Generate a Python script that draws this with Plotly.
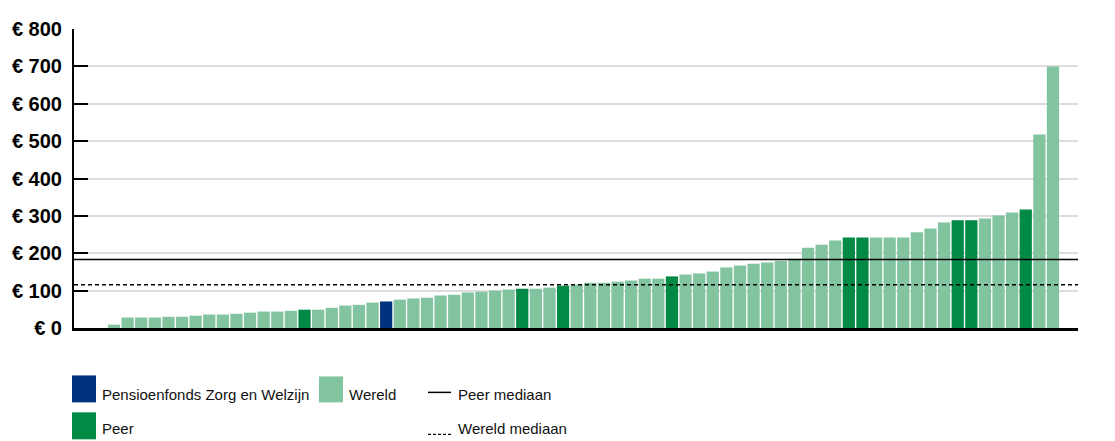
import plotly.graph_objects as go

# ---- data ----
ranks = list(range(1, 71))
costs = [9, 28, 28, 28, 30, 30, 33, 36, 36, 38,
         41, 44, 44, 46, 49, 49, 54, 60, 62, 68,
         71, 76, 79, 81, 87, 89, 95, 97, 100, 103,
         105, 105, 108, 113, 116, 121, 121, 124, 127, 132,
         132, 138, 143, 146, 151, 162, 167, 172, 175, 180,
         185, 215, 223, 234, 242, 242, 242, 242, 242, 256,
         266, 282, 288, 288, 293, 301, 309, 317, 518, 700]
groups = (["W"] * 14 + ["P"] + ["W"] * 5 + ["Z"] + ["W"] * 9 + ["P"] + ["W"] * 2 + ["P"]
          + ["W"] * 7 + ["P"] + ["W"] * 12 + ["P", "P"] + ["W"] * 6 + ["P", "P"]
          + ["W"] * 3 + ["P"] + ["W", "W"])
peer_median = 183
wereld_median = 116
y_ticks = [0, 100, 200, 300, 400, 500, 600, 700, 800]
y_tick_labels = ["€ " + str(v) for v in y_ticks]
legend_labels = {"Z": "Pensioenfonds Zorg en Welzijn", "W": "Wereld", "P": "Peer",
                 "pm": "Peer mediaan", "wm": "Wereld mediaan"}

colors = {"Z": "#00337F", "P": "#008A45", "W": "#82C4A0"}

OFF = 8  # page body margin
W, H = 1115 - OFF, 441 - OFF
ML, MT = 74 - OFF, 29 - OFF
MR = W - (1078 - OFF)
MB = H - (328.5 - OFF)

fig = go.Figure()
fig.add_trace(go.Bar(
    x=ranks, y=costs,
    marker=dict(color=[colors[g] for g in groups], line=dict(width=0)),
    showlegend=False, hoverinfo="y",
))

# median lines
fig.add_shape(type="line", xref="paper", yref="y", x0=0, x1=1, y0=peer_median, y1=peer_median,
              line=dict(color="black", width=1.5), layer="above")
fig.add_shape(type="line", xref="paper", yref="y", x0=0, x1=1, y0=wereld_median, y1=wereld_median,
              line=dict(color="black", width=1.5, dash="4px,3px"), layer="above")

# ---- custom legend (screen pixel -> paper helpers) ----
pw, ph = W - ML - MR, H - MT - MB
def px(x):
    return (x - OFF - ML) / pw
def py(y):
    return (H - MB - (y - OFF)) / ph

font_leg = dict(family="Liberation Sans, Arial, sans-serif", size=15, color="#111")

def swatch(x0, y0, x1, y1, color):
    fig.add_shape(type="rect", xref="paper", yref="paper", x0=px(x0), x1=px(x1), y0=py(y1), y1=py(y0),
                  fillcolor=color, line=dict(width=0))

def label(x, y, text):
    fig.add_annotation(xref="paper", yref="paper", x=px(x), y=py(y), text=text, showarrow=False,
                       xanchor="left", yanchor="middle", font=font_leg)

swatch(72, 376, 96, 403, colors["Z"]); label(100, 395, legend_labels["Z"])
swatch(319, 377, 343, 403, colors["W"]); label(347, 395, legend_labels["W"])
fig.add_shape(type="line", xref="paper", yref="paper", x0=px(428), x1=px(451), y0=py(393), y1=py(393),
              line=dict(color="black", width=1.5))
label(456, 395, legend_labels["pm"])
swatch(72, 413, 96, 440, colors["P"]); label(100, 429, legend_labels["P"])
fig.add_shape(type="line", xref="paper", yref="paper", x0=px(428), x1=px(451), y0=py(435), y1=py(435),
              line=dict(color="black", width=1.2, dash="3px,2px"))
label(456, 429, legend_labels["wm"])

fig.update_layout(
    width=W, height=H,
    margin=dict(l=ML, r=MR, t=MT, b=MB, autoexpand=False),
    plot_bgcolor="white", paper_bgcolor="white",
    bargap=0.1,
    showlegend=False,
    xaxis=dict(range=[-1.94, 71.84], showticklabels=False, ticks="", showgrid=False, zeroline=False,
               showline=True, linecolor="black", linewidth=3, automargin=False),
    yaxis=dict(range=[0, 800], tickvals=y_ticks, ticktext=y_tick_labels,
               ticks="inside", ticklen=14, tickwidth=2, tickcolor="black",
               showgrid=True, gridcolor="#DDDDDD", gridwidth=1.5, zeroline=False,
               showline=True, linecolor="black", linewidth=2, automargin=False,
               tickfont=dict(family="Liberation Sans, Arial, sans-serif", size=20, color="black", weight="bold"),
               ticklabelstandoff=6),
)

fig.write_html("out.html")
